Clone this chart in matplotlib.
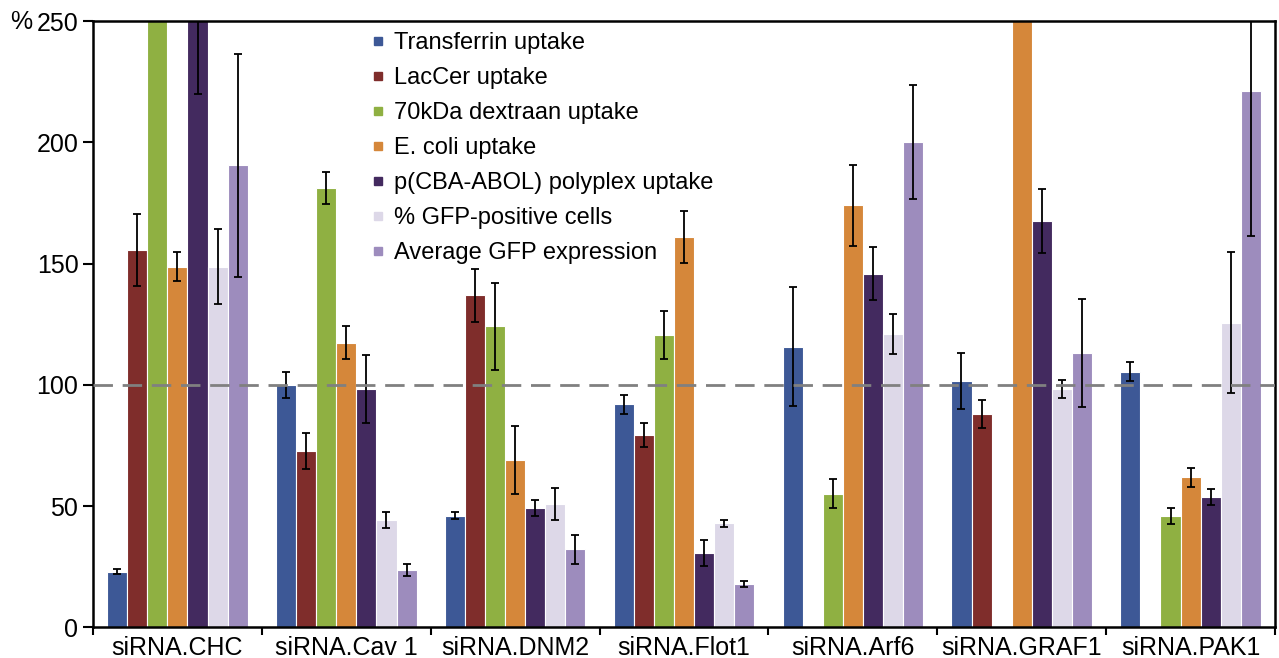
import numpy as np
import matplotlib
matplotlib.use("Agg")
import matplotlib.pyplot as plt
from matplotlib.lines import Line2D

plt.rcParams['font.family'] = ['Liberation Sans', 'DejaVu Sans']

groups = ["siRNA.CHC", "siRNA.Cav 1", "siRNA.DNM2", "siRNA.Flot1",
          "siRNA.Arf6", "siRNA.GRAF1", "siRNA.PAK1"]
series = ["Transferrin uptake", "LacCer uptake", "70kDa dextraan uptake",
          "E. coli uptake", "p(CBA-ABOL) polyplex uptake",
          "% GFP-positive cells", "Average GFP expression"]
colors = ["#3d5896", "#7f2d2b", "#8fb042", "#d5873a", "#432a5f",
          "#ddd8e8", "#9d8cbd"]

nan = np.nan
transferrin     = [23.0, 99.8, 46.1, 92.0, 115.8, 101.6, 105.5]
transferrin_err = [1.0, 5.3, 1.6, 4.0, 24.5, 11.6, 3.8]
lacCer          = [155.6, 72.8, 136.9, 79.2, nan, 88.0, nan]
lacCer_err      = [14.7, 7.4, 11.0, 5.0, nan, 5.8, nan]
dextran         = [270.0, 181.2, 124.2, 120.6, 55.1, nan, 46.1]
dextran_err     = [0.0, 6.7, 18.0, 9.8, 6.0, nan, 3.3]
ecoli           = [148.7, 117.3, 69.0, 160.8, 174.0, 270.0, 61.9]
ecoli_err       = [6.0, 6.8, 14.0, 10.7, 16.7, 0.0, 4.0]
polyplex        = [262.0, 98.3, 49.2, 30.7, 145.9, 167.6, 53.7]
polyplex_err    = [42.0, 14.2, 3.4, 5.5, 11.0, 13.3, 3.3]
gfp_pos         = [148.7, 44.2, 50.8, 43.0, 121.1, 98.3, 125.6]
gfp_pos_err     = [15.4, 3.2, 6.6, 1.4, 8.2, 3.7, 29.0]
gfp_avg         = [190.6, 23.8, 32.2, 17.9, 200.3, 113.2, 221.3]
gfp_avg_err     = [46.0, 2.5, 5.9, 1.2, 23.5, 22.4, 60.0]

values = [transferrin, lacCer, dextran, ecoli, polyplex, gfp_pos, gfp_avg]
errors = [transferrin_err, lacCer_err, dextran_err, ecoli_err, polyplex_err,
          gfp_pos_err, gfp_avg_err]

fig = plt.figure(figsize=(12.79, 6.58), dpi=100)
ax = fig.add_axes([0.0727, 0.0465, 0.9969 - 0.0727, 0.968 - 0.0465])

x = np.arange(len(groups))
w = 0.119
for i, (vals, errs) in enumerate(zip(values, errors)):
    pos = x + (i - 3) * w
    vals = np.array(vals, dtype=float)
    errs = np.array(errs, dtype=float)
    ax.bar(pos, vals, width=w, color=colors[i], edgecolor="white",
           linewidth=0.8, zorder=2)
    m = ~np.isnan(vals) & (np.nan_to_num(errs) > 0)
    ax.errorbar(pos[m], vals[m], yerr=errs[m], fmt="none", ecolor="black",
                elinewidth=1.3, capsize=3, capthick=1.3, zorder=3)

ax.axhline(100, color="#808080", linestyle=(0, (7, 3.5)), linewidth=2, zorder=4)

ax.set_xlim(-0.5, len(groups) - 0.5)
ax.set_ylim(0, 250)
ax.set_yticks([0, 50, 100, 150, 200, 250])
ax.tick_params(axis="y", labelsize=18, length=7, width=1.5, direction="out")

ax.set_xticks(np.arange(-0.5, len(groups) + 0.5, 1.0))
ax.set_xticklabels([])
ax.set_xticks(x, minor=True)
ax.set_xticklabels(groups, minor=True, fontsize=18)
ax.tick_params(axis="x", which="major", length=6, width=1.5, direction="out")
ax.tick_params(axis="x", which="minor", length=0, pad=6)

for sp in ax.spines.values():
    sp.set_linewidth(1.8)
    sp.set_color("black")

fig.text(0.008, 0.966, "%", fontsize=18, va="center", ha="left")

handles = [Line2D([0], [0], marker="s", linestyle="none", markersize=6,
                  markerfacecolor=c, markeredgecolor=c) for c in colors]
leg = ax.legend(handles, series, loc="upper left",
                bbox_to_anchor=(0.219, 1.005), frameon=False, fontsize=17,
                handletextpad=0.2, labelspacing=0.55, handlelength=1.0,
                borderaxespad=0.2)

fig.savefig("out.png", dpi=100)
